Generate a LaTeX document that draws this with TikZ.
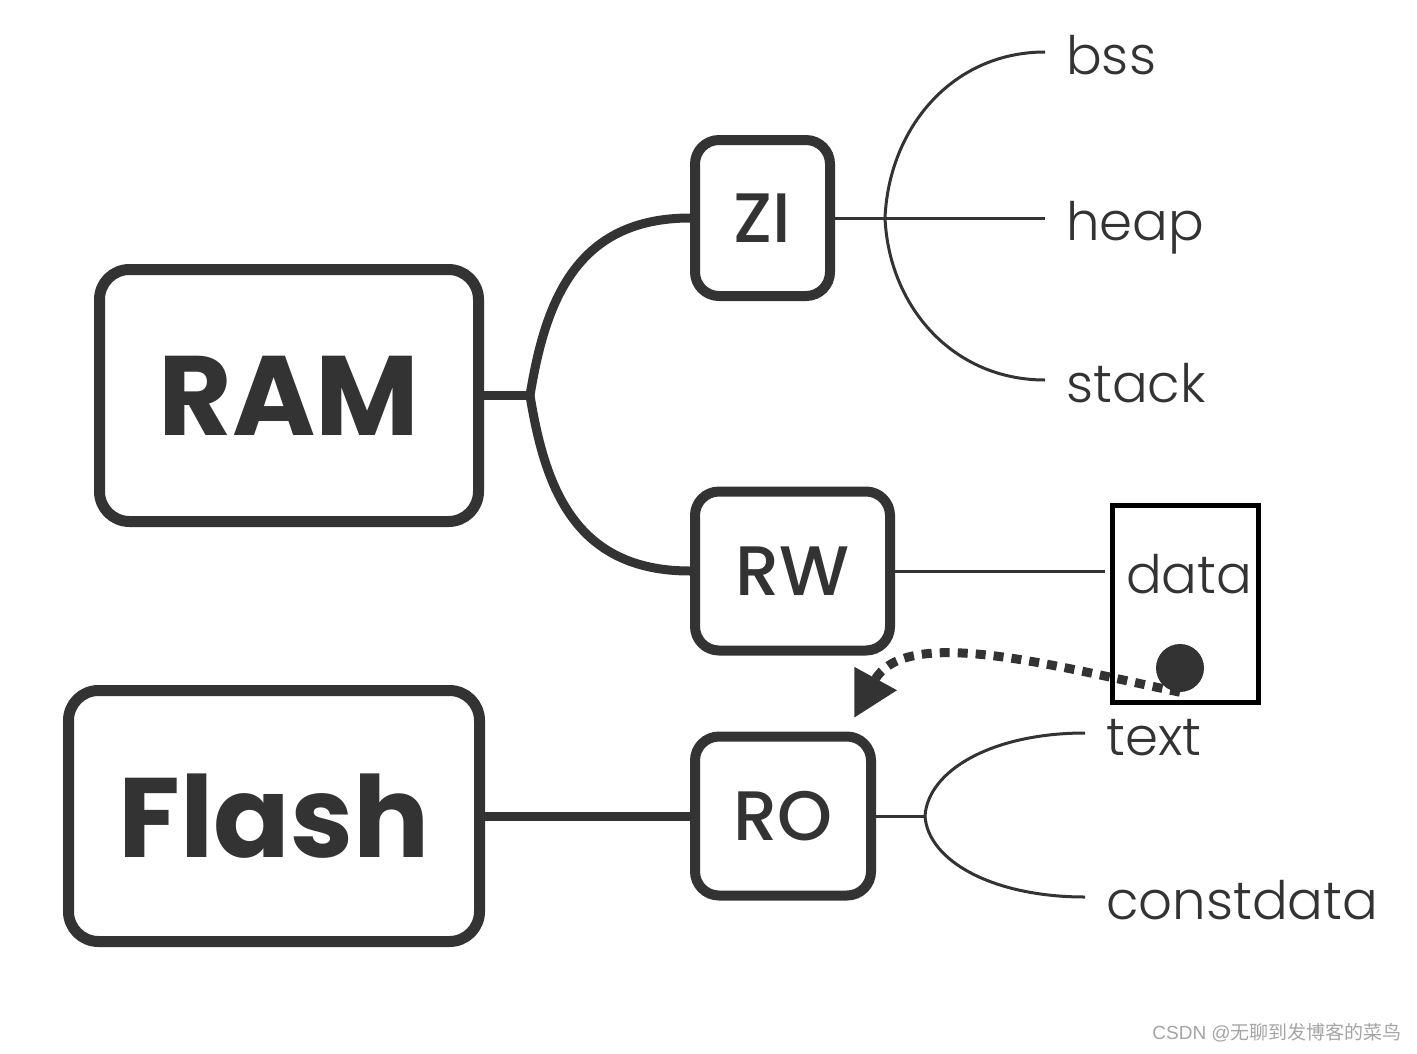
\documentclass[tikz,border=0pt]{standalone}
\usepackage{fontspec}
\setmainfont{Poppins}
\newfontfamily\popmed{Poppins Medium}
\newfontfamily\poplight{Poppins Light}
\newfontfamily\wmfont{Liberation Sans}
\newfontfamily\cjk{Noto Sans CJK SC}
\usetikzlibrary{arrows.meta}
\definecolor{ink}{RGB}{51,51,51}
\definecolor{wmgray}{RGB}{165,165,165}
\begin{document}
\begin{tikzpicture}[x=1pt,y=-1pt,
  bigbox/.style={draw=ink, line width=11pt, rounded corners=30pt, inner sep=0pt, text=ink, font=\fontsize{113}{120}\selectfont\bfseries},
  subbox/.style={draw=ink, line width=10pt, rounded corners=24pt, inner sep=0pt, text=ink, font=\fontsize{70}{80}\selectfont\popmed},
  leaf/.style={anchor=west, inner xsep=21pt, inner ysep=0pt, text height=50pt, text depth=6pt, text=ink, font=\fontsize{53}{60}\selectfont\poplight},
  thickconn/.style={draw=ink, line width=9pt},
  thinconn/.style={draw=ink, line width=3pt},
  dotarrow/.style={draw=ink, line width=9pt, dash pattern=on 10pt off 8pt, -{Triangle[length=45pt,width=46pt]}},
]
\useasboundingbox (0,0) rectangle (1417,1053);
\fill[white] (0,0) rectangle (1417,1053);

% main boxes
\node[bigbox, minimum width=379pt, minimum height=252pt] (RAM) at (289,395.5) {RAM};
\node[bigbox, minimum width=411pt, minimum height=251pt] (Flash) at (274,816) {Flash};
\node[subbox, minimum width=135pt, minimum height=156pt] (ZI) at (762.5,218) {ZI};
\node[subbox, minimum width=195pt, minimum height=159pt] (RW) at (792.5,571) {RW};
\node[subbox, minimum width=176pt, minimum height=159pt] (RO) at (783,816) {RO};

% junctions
\coordinate (ramj) at (530,395.5);
\coordinate (zij) at (885,218);
\coordinate (roj) at (925,816);

% leaves
\node[leaf] (bss) at (1045,52) {bss};
\node[leaf] (heap) at (1045,218) {heap};
\node[leaf] (stack) at (1045,380) {stack};
\node[leaf] (data) at (1105,571) {data};
\node[leaf] (text) at (1085,733) {text};
\node[leaf] (constdata) at (1085,897) {constdata};

% thick connectors
\draw[thickconn] (RAM.east) -- (ramj);
\draw[thickconn] (ramj) .. controls +(15,-92) and +(-115,0) .. (ZI.west);
\draw[thickconn] (ramj) .. controls +(15,92) and +(-115,0) .. (RW.west);
\draw[thickconn] (Flash.east) -- (RO.west);

% thin connectors
\draw[thinconn] (ZI.east) -- (zij);
\draw[thinconn] (zij) .. controls +(4,-91) and +(-92,0) .. (bss.west);
\draw[thinconn] (zij) -- (heap.west);
\draw[thinconn] (zij) .. controls +(4,89) and +(-92,0) .. (stack.west);
\draw[thinconn] (RW.east) -- (data.west);
\draw[thinconn] (RO.east) -- (roj);
\draw[thinconn] (roj) .. controls +(3,-46) and +(-92,0) .. (text.west);
\draw[thinconn] (roj) .. controls +(3,45) and +(-92,0) .. (constdata.west);

% highlight box, dot and dotted arrow
\node[draw=black, line width=5pt, minimum width=146pt, minimum height=197pt, inner sep=0pt] (hl) at (1185.5,604) {};
\node[circle, fill=ink, minimum size=48pt, inner sep=0pt] (dot) at (1180,668) {};
\coordinate (tip) at (854,718);
\draw[dotarrow] (dot.south) .. controls (1050,665) and (905,625) .. (tip);

% watermark
\node[anchor=east, inner sep=0pt, text=wmgray] (wm) at (1402,1033) {\fontsize{19}{22}\selectfont\wmfont CSDN @\cjk 无聊到发博客的菜鸟};
\end{tikzpicture}
\end{document}
